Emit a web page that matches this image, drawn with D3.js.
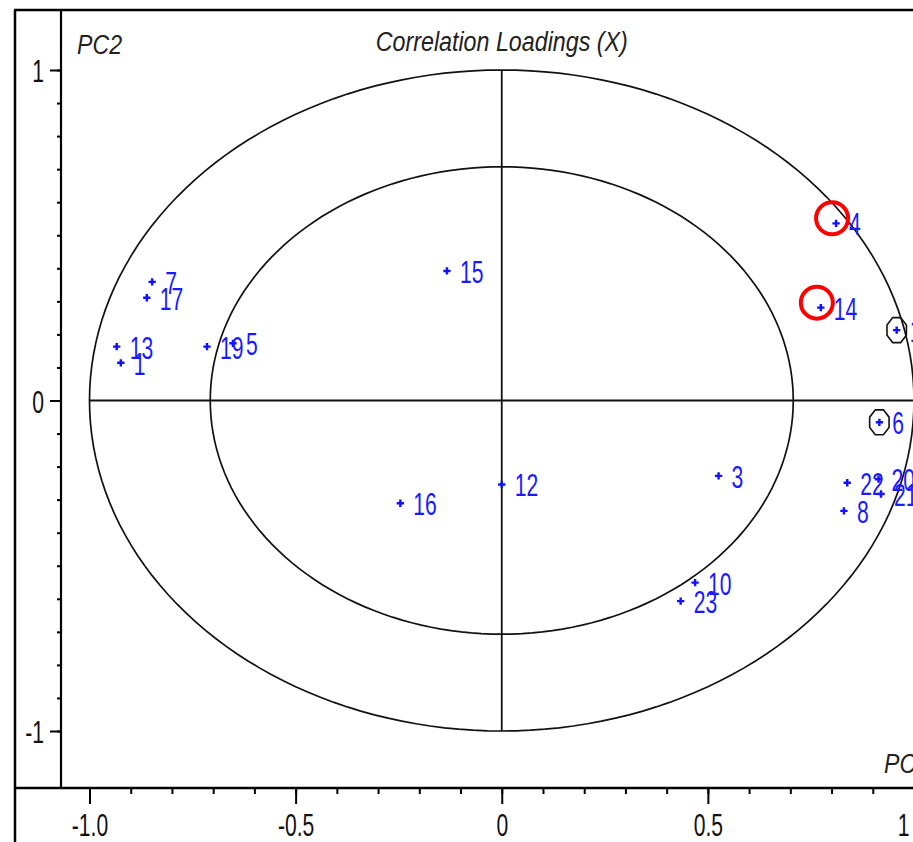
<!DOCTYPE html>
<html>
<head>
<meta charset="utf-8">
<script src="https://cdn.jsdelivr.net/npm/d3@7"></script>
<style>
  html, body { margin: 0; padding: 0; background: #fff; }
  svg { display: block; }
  text { font-family: "Liberation Sans", Arial, sans-serif; }
</style>
</head>
<body>
<svg id="chart" width="913" height="842"></svg>
<script>
// Variable names and their correlation loadings on PC1 / PC2
const variables = ["1", "13", "7", "17", "19", "5", "15", "16", "12", "3", "10", "23",
                   "4", "14", "18", "6", "8", "22", "20", "21"];
const pc1Loadings = [-0.924, -0.934, -0.848, -0.861, -0.715, -0.652, -0.133, -0.246, 0.000, 0.526, 0.469, 0.434,
                     0.811, 0.774, 0.958, 0.916, 0.830, 0.838, 0.914, 0.920];
const pc2Loadings = [0.114, 0.163, 0.359, 0.311, 0.163, 0.173, 0.392, -0.311, -0.254, -0.228, -0.551, -0.607,
                     0.536, 0.281, 0.213, -0.066, -0.334, -0.249, -0.238, -0.283];
// variables marked with an octagon, and variables ringed in red
const markedVars = ["18", "6"];
const ringedVars = ["4", "14"];

// explained-variance circles (100% and 50%)
const circleRadii = [1, Math.sqrt(0.5)];

const xMajorTicks = [-1, -0.5, 0, 0.5, 1];
const xTickLabels = ["-1.0", "-0.5", "0", "0.5", "1"];
const yMajorTicks = [-1, 0, 1];
const yTickLabels = ["-1", "0", "1"];
const minorTicks = d3.range(-10, 11).map(d => d / 10);

const titleText = "Correlation Loadings (X)";
const xAxisName = "PC1";
const yAxisName = "PC2";

const points = variables.map((name, i) => ({ name, x: pc1Loadings[i], y: pc2Loadings[i] }));

const svg = d3.select("#chart");
const W = 913, H = 842;
const frameLeft = 15, frameTop = 10;
const plotLeft = 61, plotBottom = 788;

const x = d3.scaleLinear().domain([-1, 1]).range([89.5, 914]);
const y = d3.scaleLinear().domain([-1, 1]).range([731, 70]);

const FONT = 32, NARROW = 0.66;

// compress text horizontally around its own x position
function narrow(sel, sx) {
  sel.each(function () {
    const t = d3.select(this);
    const tx = +t.attr("x") || 0;
    const ty = +t.attr("y") || 0;
    t.attr("x", 0).attr("y", 0)
     .attr("transform", `translate(${tx},${ty}) scale(${sx},1)`);
  });
}

// outer frame
svg.append("line").attr("x1", frameLeft - 1).attr("x2", W).attr("y1", frameTop).attr("y2", frameTop)
  .attr("stroke", "#000").attr("stroke-width", 2.5);
svg.append("line").attr("x1", frameLeft).attr("x2", frameLeft).attr("y1", frameTop).attr("y2", H)
  .attr("stroke", "#000").attr("stroke-width", 2.5);

// circles of explained variance
const circleLine = d3.line().x(d => x(d[0])).y(d => y(d[1]));
circleRadii.forEach(r => {
  const pts = d3.range(0, 361, 2).map(a => [r * Math.cos(a * Math.PI / 180), r * Math.sin(a * Math.PI / 180)]);
  svg.append("path").attr("d", circleLine(pts))
    .attr("fill", "none").attr("stroke", "#111").attr("stroke-width", 1.7);
});

// cross hairs through the origin
svg.append("line").attr("x1", x(-1)).attr("x2", x(1)).attr("y1", y(0)).attr("y2", y(0))
  .attr("stroke", "#111").attr("stroke-width", 1.8);
svg.append("line").attr("x1", x(0)).attr("x2", x(0)).attr("y1", y(1)).attr("y2", y(-1))
  .attr("stroke", "#111").attr("stroke-width", 1.8);

// axis lines
svg.append("line").attr("x1", plotLeft).attr("x2", plotLeft).attr("y1", frameTop).attr("y2", plotBottom)
  .attr("stroke", "#000").attr("stroke-width", 2.2);
svg.append("line").attr("x1", frameLeft).attr("x2", W).attr("y1", plotBottom).attr("y2", plotBottom)
  .attr("stroke", "#000").attr("stroke-width", 2.4);

// x axis ticks
const gxMinor = svg.append("g").attr("transform", `translate(0,${plotBottom})`)
  .call(d3.axisBottom(x).tickValues(minorTicks).tickSize(6).tickSizeOuter(0).tickFormat(""));
const gxMajor = svg.append("g").attr("transform", `translate(0,${plotBottom})`)
  .call(d3.axisBottom(x).tickValues(xMajorTicks).tickSize(16).tickSizeOuter(0)
    .tickFormat((d, i) => xTickLabels[i]));
[gxMinor, gxMajor].forEach(g => {
  g.select(".domain").remove();
  g.selectAll(".tick line").attr("stroke", "#000").attr("stroke-width", 2);
});
gxMajor.selectAll(".tick text")
  .attr("font-size", FONT).attr("fill", "#111").attr("dy", null)
  .attr("y", 48)
  .attr("x", function (d) { return Math.min(0, (W - 10) - x(d)); });
narrow(gxMajor.selectAll(".tick text"), NARROW);

// y axis ticks
const gyMinor = svg.append("g").attr("transform", `translate(${plotLeft},0)`)
  .call(d3.axisLeft(y).tickValues(minorTicks).tickSize(4).tickSizeOuter(0).tickFormat(""));
const gyMajor = svg.append("g").attr("transform", `translate(${plotLeft},0)`)
  .call(d3.axisLeft(y).tickValues(yMajorTicks).tickSize(11).tickSizeOuter(0)
    .tickFormat((d, i) => yTickLabels[i]));
[gyMinor, gyMajor].forEach(g => {
  g.select(".domain").remove();
  g.selectAll(".tick line").attr("stroke", "#000").attr("stroke-width", 2);
});
gyMajor.selectAll(".tick text")
  .attr("font-size", FONT).attr("fill", "#111").attr("dy", null)
  .attr("x", -17).attr("y", 11.5);
narrow(gyMajor.selectAll(".tick text"), NARROW);

// titles
svg.append("text").attr("x", x(0)).attr("y", 51).attr("text-anchor", "middle")
  .attr("font-size", 27).attr("font-style", "italic").attr("fill", "#222")
  .attr("textLength", 252).attr("lengthAdjust", "spacingAndGlyphs")
  .text(titleText);
svg.append("text").attr("x", 77).attr("y", 54)
  .attr("font-size", 27).attr("font-style", "italic").attr("fill", "#222")
  .attr("textLength", 45).attr("lengthAdjust", "spacingAndGlyphs")
  .text(yAxisName);
svg.append("text").attr("x", 884).attr("y", 773)
  .attr("font-size", 27).attr("font-style", "italic").attr("fill", "#222")
  .attr("textLength", 45).attr("lengthAdjust", "spacingAndGlyphs")
  .text(xAxisName);

// octagon markers around selected variables
const octagon = d3.lineRadial().curve(d3.curveLinearClosed)
  .angle(d => d).radius(1);
const octPath = octagon(d3.range(8).map(k => Math.PI / 8 + k * Math.PI / 4));
svg.append("g").selectAll("path")
  .data(points.filter(p => markedVars.includes(p.name)))
  .join("path")
  .attr("d", octPath)
  .attr("transform", p => `translate(${x(p.x)},${y(p.y)}) scale(10.5,13.5)`)
  .attr("fill", "none").attr("stroke", "#111").attr("stroke-width", 1.6)
  .attr("vector-effect", "non-scaling-stroke");

// loadings: blue crosses with labels
const cross = d3.symbol().type(d3.symbolCross).size(30);
const gPts = svg.append("g");
gPts.selectAll("path")
  .data(points)
  .join("path")
  .attr("d", cross)
  .attr("transform", p => `translate(${x(p.x)},${y(p.y)})`)
  .attr("fill", "#1010ff");
const labels = gPts.selectAll("text")
  .data(points)
  .join("text")
  .attr("x", p => x(p.x) + 13)
  .attr("y", p => y(p.y) + 12)
  .attr("font-size", FONT)
  .attr("fill", "#1a1aff")
  .text(p => p.name);
narrow(labels, NARROW);

// red highlight rings
svg.append("g").selectAll("circle")
  .data(points.filter(p => ringedVars.includes(p.name)))
  .join("circle")
  .attr("cx", p => x(p.x) - 4)
  .attr("cy", p => y(p.y) - 5)
  .attr("r", 16)
  .attr("fill", "none").attr("stroke", "#ff0000").attr("stroke-width", 4);
</script>
</body>
</html>
